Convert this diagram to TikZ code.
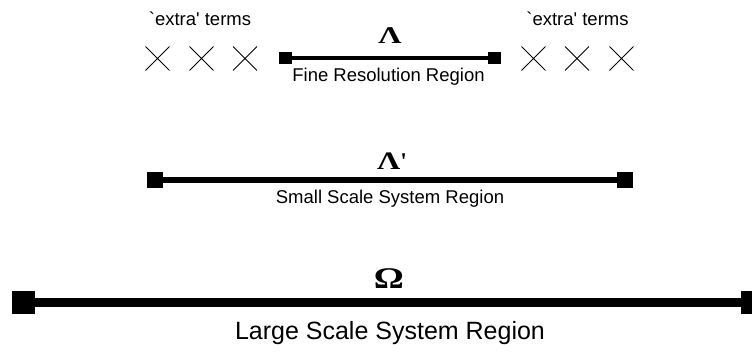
\documentclass[tikz,border=0pt]{standalone}
\usepackage{fontspec}
\usepackage{graphicx}
\newfontfamily\labelfont{Liberation Sans}
\newfontfamily\greekfont{Liberation Serif}
\usetikzlibrary{shapes.misc}

\tikzset{
  endcap/.style={rectangle, fill=black, inner sep=0pt, minimum size=#1},
  bar/.style={line width=#1, draw=black},
  smalltext/.style={font=\labelfont\fontsize{18.5}{20}\selectfont, inner sep=0pt, anchor=base},
  bigtext/.style={font=\labelfont\fontsize{25}{27}\selectfont, inner sep=0pt, anchor=base},
  symb/.style={font=\greekfont\bfseries\fontsize{24}{24}\selectfont, inner sep=0pt, anchor=base},
  term/.style={cross out, draw=black, line width=0.9pt, inner sep=0pt, minimum size=23pt},
}

\begin{document}
\begin{tikzpicture}[x=1pt, y=-1pt]
\useasboundingbox (0,0) rectangle (752,351);
\clip (0,0) rectangle (752,351);

% fine resolution interval Lambda with extra terms on both sides
\node[endcap=12.5pt] (fl) at (285.5,58) {};
\node[endcap=12.5pt] (fr) at (494.5,58) {};
\draw[bar=4pt] (fl.center) -- (fr.center);
\node[symb] (lam) at (390,43.5) {\scalebox{1.35}[1.0]{Λ}};
\node[smalltext] (fine) at (388.5,81) {Fine Resolution Region};

\node[smalltext] (exl) at (200,25) {`extra' terms};
\node[smalltext] (exr) at (577.5,25) {`extra' terms};
\node[term] (xl1) at (157.5,58.5) {};
\node[term] (xl2) at (201.5,58.5) {};
\node[term] (xl3) at (245,58.5) {};
\node[term] (xr1) at (533.5,58.5) {};
\node[term] (xr2) at (577,58.5) {};
\node[term] (xr3) at (621.5,58.5) {};

% small scale interval Lambda'
\node[endcap=16pt] (sl) at (155,180) {};
\node[endcap=16pt] (sr) at (625,180) {};
\draw[bar=5.5pt] (sl.center) -- (sr.center);
\node[symb, anchor=base west] (lamp) at (377,169)
  {\scalebox{1.35}[1.05]{Λ}'};
\node[smalltext] (small) at (390,203.5) {Small Scale System Region};

% large scale interval Omega
\node[endcap=23pt] (ll) at (23.5,302.5) {};
\node[endcap=23pt] (lr) at (752.5,302.5) {};
\draw[bar=9pt] (ll.center) -- (lr.center);
\node[symb, font=\greekfont\bfseries\fontsize{30}{30}\selectfont] (om) at (389,288.5) {\scalebox{1.25}[1.0]{Ω}};
\node[bigtext] (large) at (390,339.5) {Large Scale System Region};
\end{tikzpicture}
\end{document}
